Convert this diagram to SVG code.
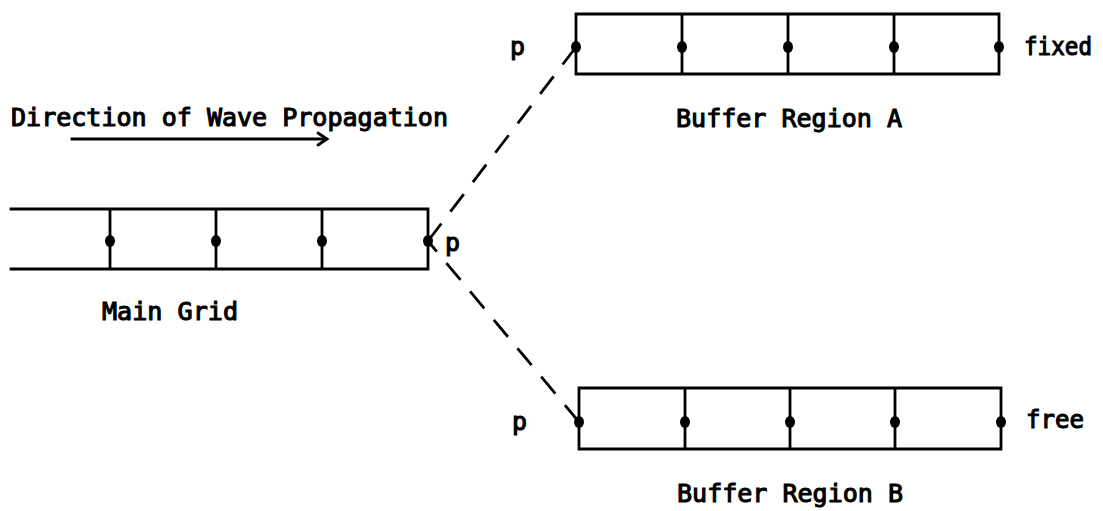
<svg xmlns="http://www.w3.org/2000/svg" width="1103" height="511" viewBox="0 0 1103 511">
<style>
.ln{stroke:#000;stroke-width:2.8;fill:none;stroke-linecap:square}
.dash{stroke:#000;stroke-width:2.8;fill:none;stroke-dasharray:22 15}
.t{font-family:"DejaVu Sans Mono","Liberation Mono",monospace;font-size:25px;fill:#000;stroke:#000;stroke-width:1.1}
.dot{fill:#000}
</style>
<rect width="1103" height="511" fill="#fff"/>
<g id="title">
<text class="t" x="11" y="126" textLength="437" lengthAdjust="spacingAndGlyphs">Direction of Wave Propagation</text>
<path class="ln" d="M72 139 H326"/>
<path class="ln" style="stroke-linecap:round" d="M318 133 L327 139 L318 145"/>
</g>
<g id="main-grid">
<path class="ln" d="M11 209 H428 V269 H11 M110 209 V269 M216 209 V269 M322 209 V269"/>
<ellipse class="dot" cx="110" cy="241" rx="5" ry="6"/>
<ellipse class="dot" cx="216" cy="241" rx="5" ry="6"/>
<ellipse class="dot" cx="322" cy="241" rx="5" ry="6"/>
<ellipse class="dot" cx="428" cy="241" rx="5" ry="6"/>
<text class="t" x="445" y="251" textLength="15" lengthAdjust="spacingAndGlyphs">p</text>
<text class="t" x="102" y="320" textLength="136" lengthAdjust="spacingAndGlyphs">Main Grid</text>
</g>
<g id="buffer-a">
<path class="ln" d="M576 14 H999 V74 H576 Z M682 14 V74 M788 14 V74 M894 14 V74"/>
<ellipse class="dot" cx="576" cy="47" rx="5" ry="6"/>
<ellipse class="dot" cx="682" cy="47" rx="5" ry="6"/>
<ellipse class="dot" cx="788" cy="47" rx="5" ry="6"/>
<ellipse class="dot" cx="894" cy="47" rx="5" ry="6"/>
<ellipse class="dot" cx="999" cy="47" rx="5" ry="6"/>
<text class="t" x="510" y="55" textLength="15" lengthAdjust="spacingAndGlyphs">p</text>
<text class="t" x="1024" y="55" textLength="68" lengthAdjust="spacingAndGlyphs">fixed</text>
<text class="t" x="676" y="127" textLength="226" lengthAdjust="spacingAndGlyphs">Buffer Region A</text>
</g>
<g id="buffer-b">
<path class="ln" d="M579 388 H1001 V449 H579 Z M685 388 V449 M790 388 V449 M895 388 V449"/>
<ellipse class="dot" cx="579" cy="422" rx="5" ry="6"/>
<ellipse class="dot" cx="685" cy="422" rx="5" ry="6"/>
<ellipse class="dot" cx="790" cy="422" rx="5" ry="6"/>
<ellipse class="dot" cx="895" cy="422" rx="5" ry="6"/>
<ellipse class="dot" cx="1001" cy="422" rx="5" ry="6"/>
<text class="t" x="512" y="430" textLength="15" lengthAdjust="spacingAndGlyphs">p</text>
<text class="t" x="1026" y="428" textLength="58" lengthAdjust="spacingAndGlyphs">free</text>
<text class="t" x="677" y="502" textLength="226" lengthAdjust="spacingAndGlyphs">Buffer Region B</text>
</g>
<g id="connectors">
<path class="dash" d="M576 47 L428 241"/>
<path class="dash" d="M579 422 L428 241"/>
</g>
</svg>
